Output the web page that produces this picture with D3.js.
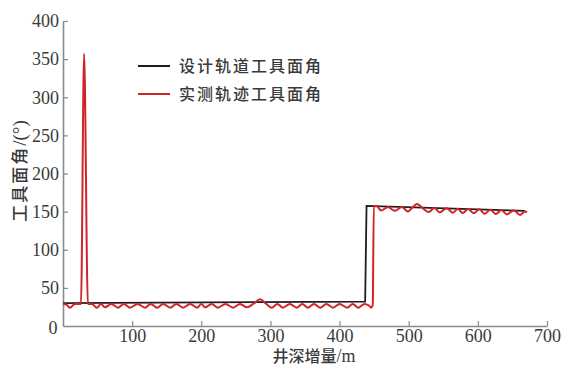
<!DOCTYPE html>
<html>
<head>
<meta charset="utf-8">
<script src="https://cdn.jsdelivr.net/npm/d3@7"></script>
<style>
  html, body { margin: 0; padding: 0; background: #fff; }
  svg { display: block; }
</style>
</head>
<body>
<svg id="chart" width="579" height="368"></svg>
<script>
// Series labels
const seriesNames = ["设计轨道工具面角", "实测轨迹工具面角"];

// Tick values
const xTicks = [100, 200, 300, 400, 500, 600, 700];
const yTicks = [50, 100, 150, 200, 250, 300, 350, 400];

// Design trajectory: well depth increment (m) and tool face angle (°)
const designDepth = [0, 437, 439, 668];
const designAngle = [30, 32, 157.5, 151];

// Measured trajectory: well depth increment (m) and tool face angle (°)
const measuredDepth = [
  0, 5, 10, 17, 26, 30.5, 36, 42, 49, 55, 60.7, 70, 79.5, 88, 97, 108, 118.6, 127,
  136, 145, 155, 164, 173.6, 184, 194, 200, 205.4, 215, 224, 235, 246, 256, 266,
  276, 285, 294, 302, 310, 318, 328, 338, 346, 354, 363, 372, 381, 390.5, 400,
  411, 419, 427, 436, 442, 446, 448, 449.5,
  454, 460, 470, 480, 490, 499, 506, 512, 519, 529, 537, 545, 555, 564, 571, 578,
  586, 594, 602, 610, 618, 626, 634, 642, 652, 661, 668, 671
];
const measuredAngle = [
  29, 28, 24, 29, 29, 357, 29, 29, 24, 29, 24.5, 29, 24, 29, 24, 29, 24, 29,
  24, 29, 24, 29, 24, 29, 24, 29, 24.5, 29, 24, 29, 24, 29, 24.5,
  29.5, 35, 29, 24, 29, 24, 29, 24, 29, 24, 29, 24, 29, 24, 29,
  24, 29, 24, 29, 27, 24, 28, 157,
  157, 151.5, 156, 151, 156, 150.2, 156, 160, 155.5, 149.5, 154.8, 149, 154.3, 148.5, 153.8, 148.2,
  153.4, 147.8, 153, 147.2, 152.6, 146.8, 152.2, 146.3, 151.8, 145.5, 150.2, 149
];

const svg = d3.select("#chart");
const axisColor = "#8a8a8a";
const textColor = "#3a3a3a";

const x = d3.scaleLinear().domain([0, 700]).range([63, 547]);
const y = d3.scaleLinear().domain([0, 400]).range([326, 21]);

// X axis with inward ticks
const xAxis = svg.append("g")
  .attr("transform", `translate(0,${y(0)})`)
  .call(d3.axisBottom(x).tickValues(xTicks).tickSizeInner(-5).tickSizeOuter(0).tickFormat(d3.format("d")));
xAxis.select(".domain").attr("stroke", axisColor).attr("stroke-width", 1.6);
xAxis.selectAll(".tick line").attr("stroke", axisColor).attr("stroke-width", 1.2);
xAxis.selectAll(".tick text")
  .attr("y", 3).attr("dy", "0.71em")
  .attr("fill", textColor)
  .style("font-family", "'Liberation Serif', serif")
  .style("font-size", "18px");

// Y axis with inward ticks
const yAxis = svg.append("g")
  .attr("transform", `translate(${x(0)},0)`)
  .call(d3.axisLeft(y).tickValues(yTicks).tickSizeInner(-5).tickSizeOuter(0).tickFormat(d3.format("d")));
yAxis.select(".domain").attr("stroke", axisColor).attr("stroke-width", 1.6);
yAxis.selectAll(".tick line").attr("stroke", axisColor).attr("stroke-width", 1.2);
yAxis.selectAll(".tick text")
  .attr("x", -4)
  .attr("fill", textColor)
  .style("font-family", "'Liberation Serif', serif")
  .style("font-size", "18px");

// Shared origin label
svg.append("text")
  .attr("x", 53).attr("y", 334)
  .attr("text-anchor", "middle")
  .attr("fill", textColor)
  .style("font-family", "'Liberation Serif', serif")
  .style("font-size", "18px")
  .text("0");

// Axis titles
const xTitle = svg.append("text")
  .attr("x", 314).attr("y", 362)
  .attr("text-anchor", "middle")
  .attr("fill", textColor)
  .style("font-size", "16px");
xTitle.append("tspan").style("font-family", "'Noto Sans CJK SC'").style("font-weight", 500).text("井深增量");
xTitle.append("tspan").style("font-family", "'Liberation Serif', serif").style("font-size", "18px").text("/m");

const yTitle = svg.append("text")
  .attr("transform", "translate(26,171) rotate(-90)")
  .attr("text-anchor", "middle")
  .attr("fill", textColor)
  .style("font-size", "17px");
yTitle.append("tspan").style("font-family", "'Noto Sans CJK SC'").style("font-weight", 500).style("letter-spacing", "2px").text("工具面角");
yTitle.append("tspan").style("font-family", "'Liberation Serif', serif").style("font-size", "19px").text("/(°)");

// Lines
const designData = designDepth.map((d, i) => [d, designAngle[i]]);
const measuredData = measuredDepth.map((d, i) => [d, measuredAngle[i]]);

const lineLinear = d3.line().x(d => x(d[0])).y(d => y(d[1]));
const lineSmooth = d3.line().x(d => x(d[0])).y(d => y(d[1])).curve(d3.curveMonotoneX);

svg.append("path")
  .datum(designData)
  .attr("d", lineLinear)
  .attr("fill", "none")
  .attr("stroke", "#1e1e1e")
  .attr("stroke-width", 1.8);

svg.append("path")
  .datum(measuredData)
  .attr("d", lineSmooth)
  .attr("fill", "none")
  .attr("stroke", "#d2232a")
  .attr("stroke-width", 2)
  .attr("stroke-linejoin", "round");

// Legend
const legendColors = ["#1e1e1e", "#d2232a"];
const legend = svg.append("g");
seriesNames.forEach((name, i) => {
  const ly = 66 + i * 28;
  legend.append("line")
    .attr("x1", 138).attr("x2", 170)
    .attr("y1", ly).attr("y2", ly)
    .attr("stroke", legendColors[i])
    .attr("stroke-width", 2);
  legend.append("text")
    .attr("x", 179).attr("y", ly)
    .attr("dy", "0.36em")
    .attr("fill", textColor)
    .style("font-family", "'Noto Sans CJK SC'")
    .style("font-weight", 500)
    .style("font-size", "16px")
    .style("letter-spacing", "2px")
    .text(name);
});
</script>
</body>
</html>
